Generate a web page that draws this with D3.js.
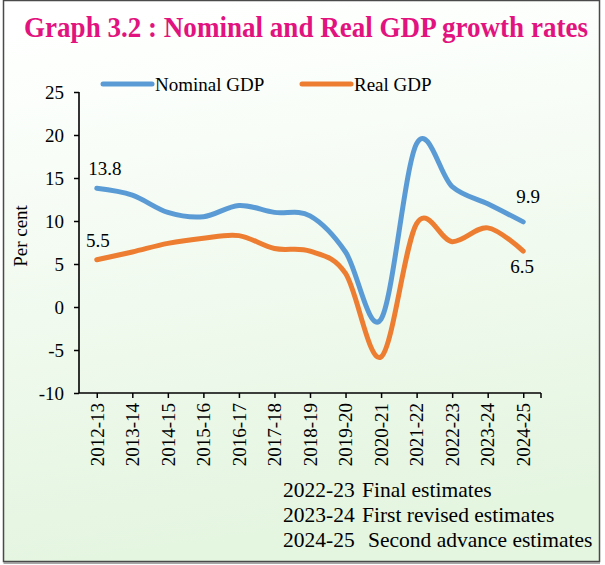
<!DOCTYPE html>
<html><head><meta charset="utf-8">
<script src="https://cdn.jsdelivr.net/npm/d3@7/dist/d3.min.js"></script>
<style>html,body{margin:0;padding:0;background:#fff}svg{display:block}</style>
</head><body>
<svg id="c" width="605" height="565"></svg>
<script>
const years = ["2012-13","2013-14","2014-15","2015-16","2016-17","2017-18","2018-19","2019-20","2020-21","2021-22","2022-23","2023-24","2024-25"];
const nominalGDP = [13.8,13.0,11.0,10.5,11.8,11.0,10.6,6.4,-1.4,19.0,14.0,12.0,9.9];
const realGDP = [5.5,6.4,7.4,8.0,8.3,6.8,6.5,3.9,-5.8,9.7,7.6,9.2,6.5];
const yTicks = [-10,-5,0,5,10,15,20,25];
const seriesNames = ["Nominal GDP","Real GDP"];
const seriesColors = ["#5B9BD5","#ED7D31"];
const notes = [["2022-23","Final estimates"],["2023-24","First revised estimates"],["2024-25","Second advance estimates"]];
const titleText = "Graph 3.2 : Nominal and Real GDP growth rates";

const svg = d3.select("#c");
const font = "Liberation Serif, Times New Roman, serif";

const defs = svg.append("defs");
const g = defs.append("linearGradient").attr("id","bg").attr("x1",0).attr("y1",0).attr("x2",0.15).attr("y2",1);
g.append("stop").attr("offset","0").attr("stop-color","#ffffff");
g.append("stop").attr("offset","0.12").attr("stop-color","#fdfffd");
g.append("stop").attr("offset","1").attr("stop-color","#e4f5e0");
svg.append("rect").attr("x",3.5).attr("y",0.5).attr("width",596).attr("height",561)
  .attr("fill","url(#bg)").attr("stroke","#4a4a4a").attr("stroke-width",1.5);
svg.append("line").attr("x1",3.5).attr("x2",600).attr("y1",563).attr("y2",563).attr("stroke","#8a8a8a").attr("stroke-width",1.5);

svg.append("text").attr("transform","translate(24,37) scale(1,1.08)").text(titleText)
  .attr("font-family",font).attr("font-weight","bold").attr("font-size",27)
  .attr("fill","#E2137E").attr("textLength",564).attr("lengthAdjust","spacingAndGlyphs");

const x = d3.scalePoint().domain(years).range([79,541]).padding(0.5);
const y = d3.scaleLinear().domain([-10,25]).range([393,92]);

// y axis
const ya = svg.append("g").attr("transform","translate(79,0)")
  .call(d3.axisLeft(y).tickValues(yTicks).tickSize(5).tickPadding(10).tickFormat(d3.format("d")));
ya.attr("font-family",font);
ya.select(".domain").attr("stroke","#000").attr("stroke-width",1.6).attr("d","M0,92V393");
ya.selectAll(".tick line").attr("stroke","#000").attr("stroke-width",1.5);
ya.selectAll("text").attr("font-family",font).attr("font-size",19).attr("fill","#000").text(d=>d<0?"-"+Math.abs(d):d);

// x axis
const xa = svg.append("g").attr("transform","translate(0,393)")
  .call(d3.axisBottom(x).tickSize(5).tickSizeOuter(0));
xa.attr("font-family",font);
xa.select(".domain").attr("stroke","#000").attr("stroke-width",1.6).attr("d","M79,0H541");
xa.selectAll(".tick line").attr("stroke","#000").attr("stroke-width",1.5);
xa.append("line").attr("x1",541).attr("x2",541).attr("y1",0).attr("y2",5).attr("stroke","#000").attr("stroke-width",1.5);
xa.selectAll("text").attr("font-family",font).attr("font-size",19).attr("fill","#000")
  .attr("text-anchor","end").attr("transform","translate(0,10) rotate(-90)").attr("x",0).attr("y",0).attr("dy","0.33em");

svg.append("text").attr("transform","translate(27,236) rotate(-90)").attr("text-anchor","middle")
  .attr("font-family",font).attr("font-size",19).attr("fill","#000").text("Per cent");

const line = d3.line().x((d,i)=>x(years[i])).y(d=>y(d)).curve(d3.curveCatmullRom.alpha(0));
[nominalGDP, realGDP].forEach((s,k)=>{
  svg.append("path").attr("d",line(s)).attr("fill","none").attr("stroke",seriesColors[k])
    .attr("stroke-width",5).attr("stroke-linecap","round").attr("stroke-linejoin","round");
});

// data labels
const lab = (txt,xx,yy)=>svg.append("text").attr("x",xx).attr("y",yy).attr("text-anchor","middle")
  .attr("font-family",font).attr("font-size",19).attr("fill","#000").text(txt);
const last = years.length-1;
lab(nominalGDP[0].toFixed(1), x(years[0])+8, y(nominalGDP[0])-13);
lab(realGDP[0].toFixed(1), x(years[0])+1, y(realGDP[0])-13);
lab(nominalGDP[last].toFixed(1), x(years[last])+5, y(nominalGDP[last])-19);
lab(realGDP[last].toFixed(1), x(years[last])-1, y(realGDP[last])+22);

// legend
const legX = [103,302];
seriesNames.forEach((n,k)=>{
  svg.append("line").attr("x1",legX[k]).attr("x2",legX[k]+49).attr("y1",84).attr("y2",84)
    .attr("stroke",seriesColors[k]).attr("stroke-width",5).attr("stroke-linecap","round");
  svg.append("text").attr("x",legX[k]+52).attr("y",90.5).attr("font-family",font).attr("font-size",19)
    .attr("fill","#000").text(n);
});

// notes
const noteY = [497,522,547];
const descX = [362,362,368];
notes.forEach((n,i)=>{
  svg.append("text").attr("x",283).attr("y",noteY[i]).attr("font-family",font).attr("font-size",21.5).attr("fill","#000").text(n[0]);
  svg.append("text").attr("x",descX[i]).attr("y",noteY[i]).attr("font-family",font).attr("font-size",21.5).attr("fill","#000").text(n[1]);
});
</script>
</body></html>
